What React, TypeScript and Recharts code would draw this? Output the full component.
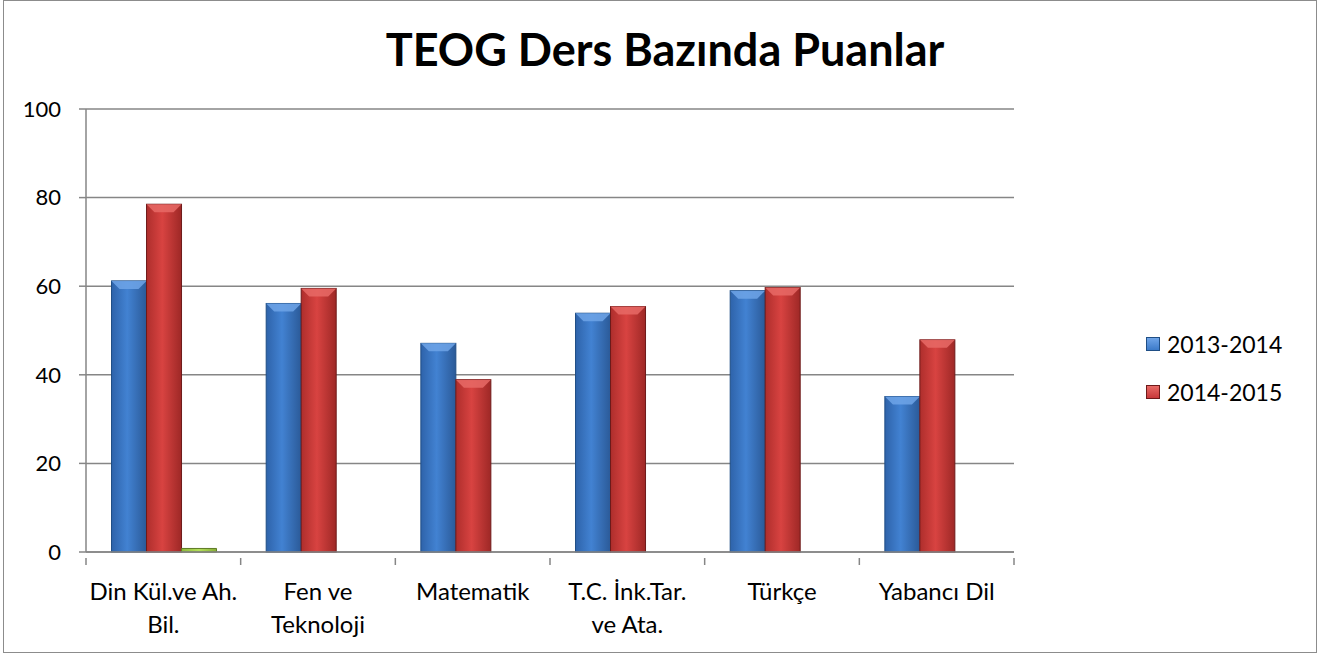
import React from 'react'
import { BarChart, Bar, XAxis, YAxis, CartesianGrid } from 'recharts'

const categories = [
  'Din Kül.ve Ah.\nBil.',
  'Fen ve\nTeknoloji',
  'Matematik',
  'T.C. İnk.Tar.\nve Ata.',
  'Türkçe',
  'Yabancı Dil',
]
const series2013 = [61.2, 56.1, 47.1, 53.9, 59.0, 35.1]
const series2014 = [78.5, 59.5, 38.9, 55.4, 59.7, 47.9]
const seriesExtra = [0.8, null, null, null, null, null]
const yTicks = [0, 20, 40, 60, 80, 100]

const data = categories.map((name, i) => ({
  name,
  a: series2013[i],
  b: series2014[i],
  c: seriesExtra[i],
}))

const W = 1312
const H = 651
const M = { top: 108, right: 302, bottom: 10, left: 12 }
const Y_W = 70
const BAND = (W - M.left - M.right - Y_W) / categories.length
const FONT = 'Lato, "Open Sans", sans-serif'
const AXIS = '#868686'

const legendItems = [
  { label: '2013-2014', color: '#3C7AC9', top: '#6FA4E8', border: '#1F4E85' },
  { label: '2014-2015', color: '#C8383A', top: '#E86A66', border: '#6E1A1A' },
]

function bevelShape(light: string, border: string) {
  return (props: any) => {
    const { x, y, width, height, fill } = props
    if (!height || height <= 0) return <g />
    const b = Math.min(8, width / 4, height / 2)
    return (
      <g>
        <rect x={x} y={y} width={width} height={height} fill={fill} stroke={border} strokeWidth={1} />
        {height > 12 && (
          <polygon
            points={`${x},${y} ${x + width},${y} ${x + width - b},${y + b} ${x + b},${y + b}`}
            fill={light}
            opacity={0.85}
          />
        )}
      </g>
    )
  }
}

function CategoryTick(props: any) {
  const { x, y, payload, index } = props
  const lines = String(payload.value).split('\n')
  const half = BAND / 2
  return (
    <g>
      <line x1={x - half} y1={y} x2={x - half} y2={y + 7} stroke={AXIS} strokeWidth={1.5} />
      {index === categories.length - 1 && (
        <line x1={x + half} y1={y} x2={x + half} y2={y + 7} stroke={AXIS} strokeWidth={1.5} />
      )}
      {lines.map((t, i) => (
        <text key={i} x={x} y={y + 42 + i * 33} textAnchor="middle" fontSize={24} fontFamily={FONT} fill="#000">
          {t}
        </text>
      ))}
    </g>
  )
}

function LegendBox() {
  return (
    <div style={{ position: 'absolute', left: 1142, top: 319, fontFamily: FONT }}>
      {legendItems.map((it) => (
        <div key={it.label} style={{ display: 'flex', alignItems: 'center', height: 48 }}>
          <span
            style={{
              width: 14,
              height: 14,
              marginRight: 7,
              background: `linear-gradient(${it.top}, ${it.color})`,
              border: `1px solid ${it.border}`,
              boxSizing: 'border-box',
            }}
          />
          <span style={{ color: '#000', fontSize: 23 }}>{it.label}</span>
        </div>
      ))}
    </div>
  )
}

export default function App() {
  return (
    <div
      style={{
        position: 'absolute',
        left: 3,
        top: 0,
        width: W + 2,
        height: H + 2,
        border: '1px solid #8c8c8c',
        boxSizing: 'border-box',
        background: '#fff',
      }}
    >
      <div
        style={{
          position: 'absolute',
          top: 26,
          left: 0,
          width: '100%',
          textAlign: 'center',
          fontFamily: FONT,
          fontWeight: 700,
          fontSize: 45,
          lineHeight: '45px',
          paddingLeft: 10,
          boxSizing: 'border-box',
        }}
      >
        TEOG Ders Bazında Puanlar
      </div>
      <BarChart width={W} height={H} data={data} margin={M} barCategoryGap="16.5%" barGap={0}>
        <defs>
          <linearGradient id="gBlue" x1="0" y1="0" x2="1" y2="0">
            <stop offset="0" stopColor="#2E63AA" />
            <stop offset="0.45" stopColor="#4282D2" />
            <stop offset="1" stopColor="#2B5A98" />
          </linearGradient>
          <linearGradient id="gRed" x1="0" y1="0" x2="1" y2="0">
            <stop offset="0" stopColor="#AE2E2C" />
            <stop offset="0.45" stopColor="#D84341" />
            <stop offset="1" stopColor="#9E2826" />
          </linearGradient>
          <linearGradient id="gGreen" x1="0" y1="0" x2="1" y2="0">
            <stop offset="0" stopColor="#8DB83A" />
            <stop offset="0.5" stopColor="#B4E05A" />
            <stop offset="1" stopColor="#86AE36" />
          </linearGradient>
        </defs>
        <CartesianGrid vertical={false} stroke={AXIS} strokeWidth={1.5} />
        <XAxis
          dataKey="name"
          interval={0}
          height={90}
          tickLine={false}
          tickMargin={0}
          axisLine={{ stroke: AXIS, strokeWidth: 1.5 }}
          tick={<CategoryTick />}
        />
        <YAxis
          domain={[0, 100]}
          ticks={yTicks}
          width={Y_W}
          tickSize={7}
          tickMargin={18}
          axisLine={{ stroke: AXIS, strokeWidth: 1.5 }}
          tickLine={{ stroke: AXIS, strokeWidth: 1.5 }}
          tick={{ fontSize: 22, fontFamily: FONT, fill: '#000' }}
        />
        <Bar dataKey="a" name="2013-2014" fill="url(#gBlue)" shape={bevelShape('#6FA4E8', '#1F4E85')} isAnimationActive={false} />
        <Bar dataKey="b" name="2014-2015" fill="url(#gRed)" shape={bevelShape('#E86A66', '#6E1A1A')} isAnimationActive={false} />
        <Bar dataKey="c" name="extra" fill="url(#gGreen)" stroke="#5E7A24" isAnimationActive={false} />
      </BarChart>
      <LegendBox />
    </div>
  )
}
